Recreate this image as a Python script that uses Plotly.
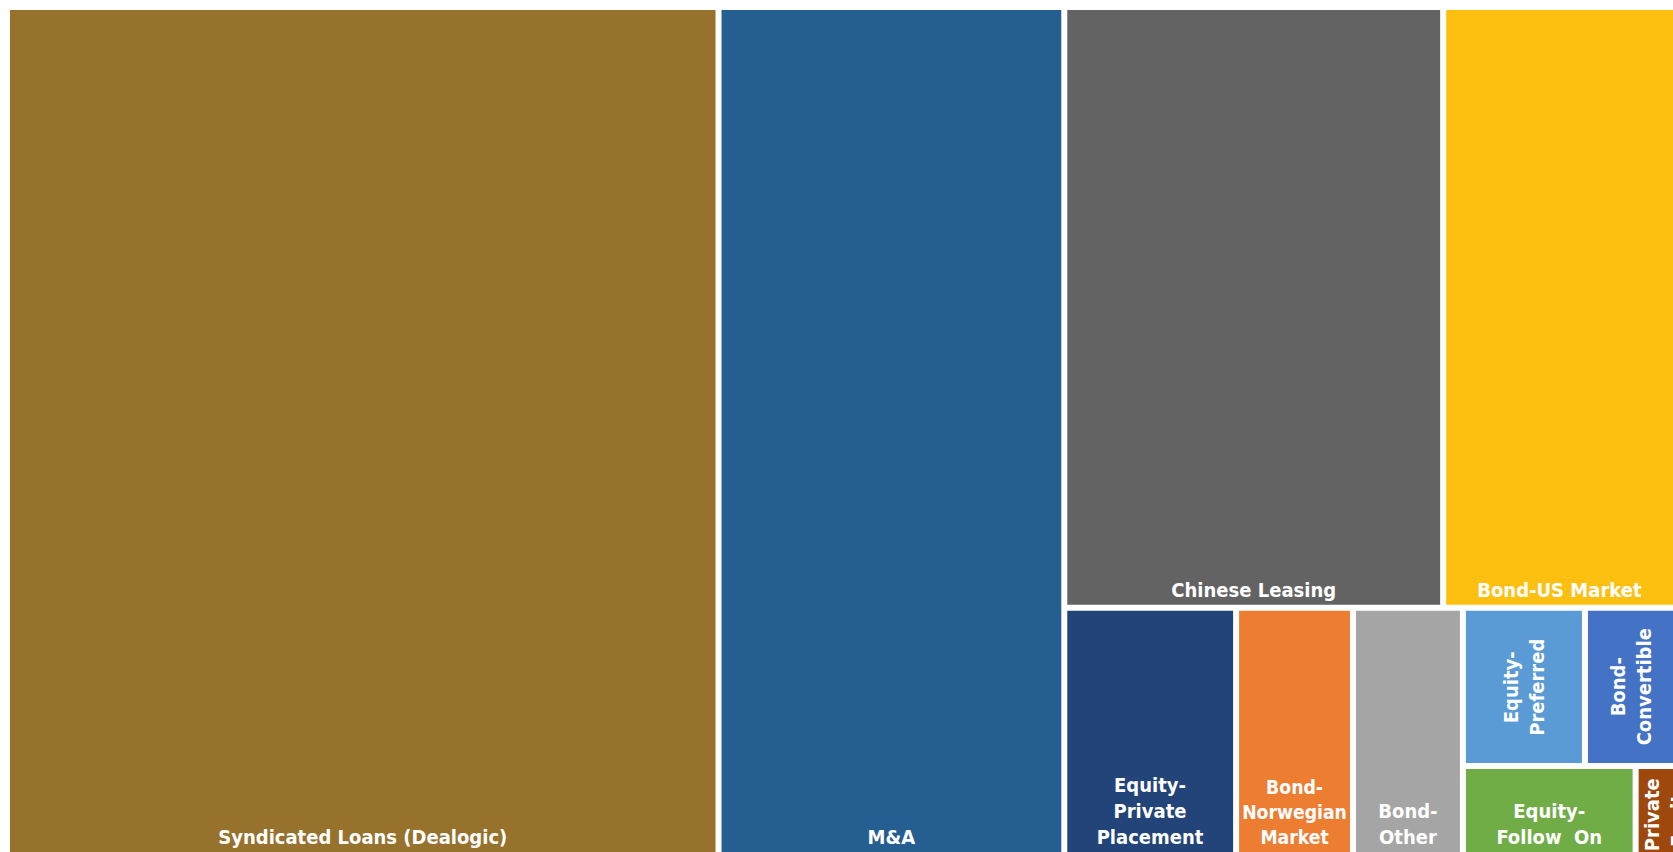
import plotly.graph_objects as go

# ---- data (visible areas) ----
ids = ["root", "Syndicated Loans (Dealogic)", "M&A", "g_right", "g_top",
       "Chinese Leasing", "Bond-US Market", "g_bottom",
       "Equity-Private Placement", "Bond-Norwegian Market", "Bond-Other",
       "g_small", "g_small_top", "Equity-Preferred", "Bond-Convertible",
       "g_small_bottom", "Equity-Follow On", "Private Equity"]
parents = ["", "root", "root", "root", "g_right",
           "g_top", "g_top", "g_right",
           "g_bottom", "g_bottom", "g_bottom",
           "g_bottom", "g_small", "g_small_top", "g_small_top",
           "g_small", "g_small_bottom", "g_small_bottom"]
values = [0, 603.8, 293.4, 0, 0,
          227.8, 140.0, 0,
          42.5, 28.9, 27.2,
          0, 0, 19.3, 14.4,
          0, 15.4, 3.6]
display = ["", "Syndicated Loans (Dealogic)", "M&A", "", "",
           "Chinese Leasing", "Bond-US Market", "",
           "Equity-<br>Private<br>Placement", "Bond-<br>Norwegian<br>Market", "Bond-<br>Other",
           "", "", "Equity-<br>Preferred", "Bond-<br>Convertible",
           "", "Equity-<br>Follow  On", "Private<br>Equity"]
# rotated labels and how they sit in their tile
rotated = {"Equity-Preferred": ("center", "middle"),
           "Bond-Convertible": ("center", "middle"),
           "Private Equity": ("left", "bottom")}
colors = ["#FFFFFF", "#96722D", "#255E91", "#FFFFFF", "#FFFFFF",
          "#636363", "#FEC010", "#FFFFFF",
          "#234478", "#ED7D31", "#A5A5A5",
          "#FFFFFF", "#FFFFFF", "#5B9BD5", "#4472C4",
          "#FFFFFF", "#70AD47", "#9E480E"]

# ---- figure geometry ----
W, H = 1673, 852
ML, MT = 10, 10
PAD = 6
FONT = "DejaVu Sans Condensed, Liberation Sans Narrow, Arial Narrow, sans-serif"
FSIZE = 20

treemap_text = [("" if i in rotated else d) for i, d in zip(ids, display)]

fig = go.Figure(go.Treemap(
    ids=ids, labels=ids, parents=parents, values=values,
    branchvalues="remainder", sort=False,
    text=treemap_text, textinfo="text", textposition="bottom center",
    textfont=dict(family=FONT, size=FSIZE, color="white", weight="bold"),
    marker=dict(colors=colors, line=dict(width=0), pad=dict(t=0, l=0, r=0, b=0)),
    tiling=dict(packing="slice-dice", pad=PAD),
    pathbar=dict(visible=False),
    hoverinfo="skip",
))

# ---- compute tile positions (same slice-dice partition) for rotated labels ----
children = {}
for i, p in zip(ids, parents):
    children.setdefault(p, []).append(i)
val = dict(zip(ids, values))


def total(n):
    return val[n] + sum(total(c) for c in children.get(n, []))


rects = {}


def part(n, x0, y0, x1, y1, depth):
    rects[n] = (x0, y0, x1, y1)
    kids = children.get(n, [])
    if not kids:
        return
    p = PAD / 2
    X0, Y0, X1, Y1 = x0 - p, y0 - p, x1 + p, y1 + p
    t = sum(total(k) for k in kids)
    pos = X0 if depth % 2 == 0 else Y0
    for k in kids:
        if depth % 2 == 0:
            w = (X1 - X0) * total(k) / t
            part(k, pos + p, Y0 + p, pos + w - p, Y1 - p, depth + 1)
        else:
            w = (Y1 - Y0) * total(k) / t
            part(k, X0 + p, pos + p, X1 - p, pos + w - p, depth + 1)
        pos += w


PW, PH = W - ML, H - MT
part("root", 0, 0, PW, PH, 0)

for n, d in zip(ids, display):
    if n in rotated:
        xa, ya = rotated[n]
        x0, y0, x1, y1 = rects[n]
        px = {"left": x0, "center": (x0 + x1) / 2, "right": x1}[xa]
        py = {"top": y0, "middle": (y0 + y1) / 2, "bottom": y1}[ya]
        fig.add_annotation(
            x=px / PW, y=1 - py / PH,
            xref="paper", yref="paper", text=d, textangle=-90,
            showarrow=False, xanchor=xa, yanchor=ya, borderpad=0,
            font=dict(family=FONT, size=FSIZE, color="white", weight="bold"),
        )

fig.update_layout(
    width=W, height=H,
    margin=dict(l=ML, t=MT, r=0, b=0),
    paper_bgcolor="white", plot_bgcolor="white",
    showlegend=False,
)

fig.write_html("out.html")
